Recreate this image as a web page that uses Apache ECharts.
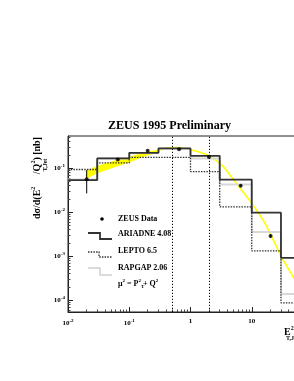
<!DOCTYPE html>
<html><head><meta charset="utf-8">
<script src="https://cdn.jsdelivr.net/npm/echarts@6/dist/echarts.min.js"></script>
<style>html,body{margin:0;padding:0;background:#fff}#c{width:294px;height:381px}</style>
</head><body><div id="c"></div>
<script>
// ---- data ----
const binEdges = [0.01, 0.03, 0.1, 0.3, 1, 3, 10, 30, 100];
const ariadne  = [0.0534, 0.166, 0.223, 0.28, 0.19, 0.055, 0.0097, 0.00091];
const lepto    = [0.093, 0.132, 0.175, 0.175, 0.083, 0.0132, 0.00131, 0.000087];
const rapgap   = [0.055, 0.165, 0.22, 0.275, 0.166, 0.0425, 0.00355, 0.000138];

const dataX  = [0.0202, 0.065, 0.2, 0.65, 2.0, 6.6, 20.3];
const dataY  = [0.056, 0.158, 0.247, 0.27, 0.18, 0.040, 0.00285];
const errLo  = [0.0266, 0.150, 0.240, 0.262, 0.175, 0.038, 0.0026];
const errHi  = [0.090, 0.168, 0.255, 0.278, 0.185, 0.042, 0.0031];

const bandX  = [0.0197, 0.0297, 0.063, 0.1026, 0.195, 0.294];
const bandHi = [0.0855, 0.111, 0.152, 0.182, 0.237, 0.256];
const bandLo = [0.0577, 0.0769, 0.111, 0.137, 0.197, 0.225];

const curveX = [0.294, 0.355, 0.60, 0.977, 1.92, 3.25, 4.68, 9.93, 16.4, 30.6, 48.6, 73.5];
const curveY = [0.24, 0.277, 0.295, 0.266, 0.197, 0.117, 0.0624, 0.016, 0.0056, 0.00096, 0.000316, 0.0001];

const cutLines = [0.5, 2];

const xMajor = [0.01, 0.1, 1, 10];
const yMajor = [0.0001, 0.001, 0.01, 0.1];
const xMinor = [];
for (let e = -2; e <= 1; e++) for (let k = 2; k <= 9; k++) xMinor.push(k * Math.pow(10, e));
const yMinor = [];
for (let e = -5; e <= -1; e++) for (let k = 2; k <= 9; k++) { const v = k * Math.pow(10, e); if (v > Math.pow(10,-4.27) && v < Math.pow(10,-0.27)) yMinor.push(v); }

// ---- chart ----
const F = 'Liberation Serif';
const chart = echarts.init(document.getElementById('c'), null, {renderer: 'canvas'});
const histData = vals => vals.map((v, i) => [binEdges[i], v]).concat([[binEdges[vals.length], vals[vals.length - 1]]]);
const expOf = v => Math.round(Math.log10(v));
const tickRich = {
  b: {fontSize: 7, fontWeight: 'bold', fontFamily: F, color: '#000'},
  s: {fontSize: 5, fontWeight: 'bold', fontFamily: F, color: '#000', padding: [0, 0, 5, 0]}
};
const axisCommon = {
  type: 'log', logBase: 10, splitLine: {show: false},
  axisLine: {show: true, lineStyle: {color: '#222', width: 1}}
};
const minorAxis = (vals) => ({
  type: 'log', logBase: 10, splitLine: {show: false},
  axisLine: {show: false}, axisLabel: {show: false},
  axisTick: {show: true, inside: true, length: 2.5, customValues: vals, lineStyle: {color: '#444', width: 1}}
});

const option = {
  animation: false,
  backgroundColor: '#fff',
  title: {
    text: 'ZEUS 1995 Preliminary', left: 103, top: 115,
    textStyle: {fontFamily: F, fontWeight: 'bold', fontSize: 12, color: '#000'}
  },
  grid: {left: 68, top: 136, width: 245, height: 176, outerBoundsMode: 'none', containLabel: false,
    show: true, borderColor: '#222', borderWidth: 1, backgroundColor: 'transparent'},
  xAxis: [
    Object.assign({}, axisCommon, {
      min: 0.01, max: 100,
      axisTick: {show: true, inside: true, length: 5, customValues: xMajor, lineStyle: {color: '#222'}},
      axisLabel: {show: true, margin: 6, customValues: xMajor, rich: tickRich,
        formatter: v => { const e = expOf(v); return e === 0 ? '{b|1}' : e === 1 ? '{b|10}' : '{b|10}{s|' + e + '}'; }}
    }),
    Object.assign(minorAxis(xMinor), {min: 0.01, max: 100, position: 'bottom'})
  ],
  yAxis: [
    Object.assign({}, axisCommon, {
      min: Math.pow(10, -4.27), max: Math.pow(10, -0.27),
      axisTick: {show: true, inside: true, length: 5, customValues: yMajor, lineStyle: {color: '#222'}},
      axisLabel: {show: true, margin: 3, customValues: yMajor, rich: tickRich,
        formatter: v => '{b|10}{s|' + expOf(v) + '}'}
    }),
    Object.assign(minorAxis(yMinor), {min: Math.pow(10, -4.27), max: Math.pow(10, -0.27), position: 'left'})
  ],
  series: [
    {
      type: 'custom', name: 'band', z: 1, silent: true,
      data: [[bandX[0], bandLo[0]]],
      renderItem: (params, api) => {
        const pts = [];
        for (let i = 0; i < bandX.length; i++) pts.push(api.coord([bandX[i], bandHi[i]]));
        for (let i = bandX.length - 1; i >= 0; i--) pts.push(api.coord([bandX[i], bandLo[i]]));
        return {type: 'polygon', shape: {points: pts}, style: {fill: '#ffff00', stroke: '#ffff00', lineWidth: 0.5}};
      }
    },
    {
      type: 'line', name: 'curve', z: 2, silent: true, symbol: 'none', smooth: 0.3,
      data: curveX.map((x, i) => [x, curveY[i]]),
      lineStyle: {color: '#ffff00', width: 1.6}
    },
    {
      type: 'line', name: 'RAPGAP 2.06', z: 3, step: 'end', symbol: 'none',
      data: histData(rapgap), lineStyle: {color: '#d8d8d8', width: 2}
    },
    {
      type: 'line', name: 'LEPTO 6.5', z: 4, step: 'end', symbol: 'none',
      data: histData(lepto), lineStyle: {color: '#333', width: 1.3, type: [1.5, 1.2]}
    },
    {
      type: 'line', name: 'ARIADNE 4.08', z: 5, step: 'end', symbol: 'none',
      data: histData(ariadne), lineStyle: {color: '#333', width: 1.8},
      markLine: {
        silent: true, symbol: 'none', label: {show: false},
        lineStyle: {color: '#000', width: 1, type: [1.2, 1.8]},
        data: cutLines.map(v => ({xAxis: v}))
      }
    },
    {
      type: 'custom', name: 'err', z: 6, silent: true,
      data: dataX.map((x, i) => [x, dataY[i], errLo[i], errHi[i]]),
      encode: {x: 0, y: 1},
      renderItem: (params, api) => {
        const a = api.coord([api.value(0), api.value(2)]);
        const b = api.coord([api.value(0), api.value(3)]);
        return {type: 'line', shape: {x1: a[0], y1: a[1], x2: b[0], y2: b[1]}, style: {stroke: '#000', lineWidth: 1}};
      }
    },
    {
      type: 'scatter', name: 'ZEUS Data', z: 7, symbol: 'circle', symbolSize: 4,
      data: dataX.map((x, i) => [x, dataY[i]]), itemStyle: {color: '#000'}
    }
  ],
  graphic: [
    // y axis title
    {type: 'text', x: 37, y: 178, rotation: Math.PI / 2, z: 10,
      style: {text: '{m|dσ/d(E}{s|2}{m|     /Q}{s|2}{m|) [nb]}', align: 'center', verticalAlign: 'middle',
        rich: {m: {fontSize: 10, fontWeight: 'bold', fontFamily: F, fill: '#000'},
               s: {fontSize: 6, fontWeight: 'bold', fontFamily: F, fill: '#000', padding: [0, 0, 7, 0]}}}},
    {type: 'text', x: 45, y: 165, rotation: Math.PI / 2, z: 10,
      style: {text: 'T,Jet', align: 'center', verticalAlign: 'middle', fontSize: 6, fontWeight: 'bold', fontFamily: F, fill: '#000'}},
    // x axis title (cut off at the right)
    {type: 'text', x: 284, y: 332, z: 10,
      style: {text: '{m|E}{s|2}{m|/Q}{s|2}', align: 'left', verticalAlign: 'middle',
        rich: {m: {fontSize: 10, fontWeight: 'bold', fontFamily: F, fill: '#000'},
               s: {fontSize: 6, fontWeight: 'bold', fontFamily: F, fill: '#000', padding: [0, 0, 7, 0]}}}},
    {type: 'text', x: 286, y: 338, z: 10,
      style: {text: 'T,Jet', align: 'left', verticalAlign: 'middle', fontSize: 6, fontWeight: 'bold', fontFamily: F, fill: '#000'}},
    // legend
    {type: 'circle', shape: {cx: 102, cy: 219, r: 1.8}, style: {fill: '#000'}, z: 10},
    {type: 'text', x: 118, y: 219, z: 10, style: {text: 'ZEUS Data', verticalAlign: 'middle', fontSize: 8, fontWeight: 'bold', fontFamily: F, fill: '#000'}},
    {type: 'polyline', shape: {points: [[88, 233], [100, 233], [100, 239], [112, 239]]}, style: {stroke: '#333', lineWidth: 1.8, fill: null}, z: 10},
    {type: 'text', x: 118, y: 234, z: 10, style: {text: 'ARIADNE 4.08', verticalAlign: 'middle', fontSize: 8, fontWeight: 'bold', fontFamily: F, fill: '#000'}},
    {type: 'polyline', shape: {points: [[88, 252], [99, 252], [99, 257], [112, 257]]}, style: {stroke: '#333', lineWidth: 1.3, lineDash: [1.5, 1.2], fill: null}, z: 10},
    {type: 'text', x: 118, y: 251, z: 10, style: {text: 'LEPTO 6.5', verticalAlign: 'middle', fontSize: 8, fontWeight: 'bold', fontFamily: F, fill: '#000'}},
    {type: 'polyline', shape: {points: [[88, 268], [100, 268], [100, 275], [112, 275]]}, style: {stroke: '#d0d0d0', lineWidth: 1.5, fill: null}, z: 10},
    {type: 'text', x: 118, y: 268, z: 10, style: {text: 'RAPGAP 2.06', verticalAlign: 'middle', fontSize: 8, fontWeight: 'bold', fontFamily: F, fill: '#000'}},
    {type: 'text', x: 118, y: 284, z: 10,
      style: {text: '{m|μ}{s|2}{m| = P}{s|2}{m| + Q}{s|2}', verticalAlign: 'middle',
        rich: {m: {fontSize: 8, fontWeight: 'bold', fontFamily: F, fill: '#000'},
               s: {fontSize: 5, fontWeight: 'bold', fontFamily: F, fill: '#000', padding: [0, 0, 6, 0]}}}},
    {type: 'text', x: 141, y: 287, z: 10, style: {text: 'T', verticalAlign: 'middle', fontSize: 5, fontWeight: 'bold', fontFamily: F, fill: '#000'}}
  ]
};
chart.setOption(option);
</script></body></html>
